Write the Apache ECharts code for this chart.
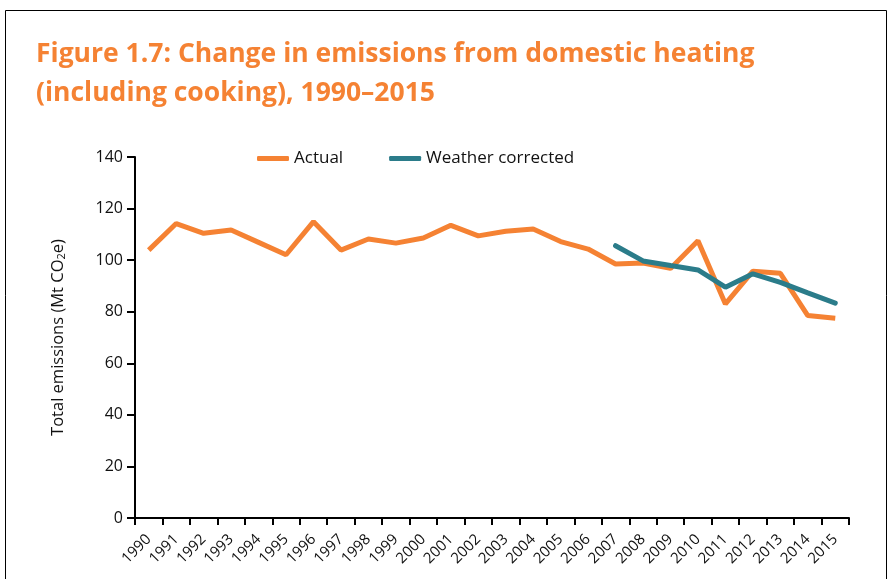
<!DOCTYPE html>
<html>
<head>
<meta charset="utf-8">
<script src="https://cdn.jsdelivr.net/npm/echarts@6/dist/echarts.min.js"></script>
<style>
  html, body { margin: 0; padding: 0; background: #fff; }
  #main { width: 889px; height: 579px; }
</style>
</head>
<body>
<div id="main"></div>
<script>
const years = ['1990', '1991', '1992', '1993', '1994', '1995', '1996', '1997', '1998', '1999',
  '2000', '2001', '2002', '2003', '2004', '2005', '2006', '2007', '2008', '2009',
  '2010', '2011', '2012', '2013', '2014', '2015'];
const actual = [103.9, 114.2, 110.4, 111.7, 106.9, 102.1, 114.9, 103.9, 108.2, 106.6,
  108.6, 113.5, 109.4, 111.2, 112.1, 107.2, 104.3, 98.5, 98.9, 96.8,
  107.5, 83.0, 95.7, 94.9, 78.5, 77.5];
// weather corrected only from 2007
const weatherCorrected = [null, null, null, null, null, null, null, null, null, null,
  null, null, null, null, null, null, null, 105.6, 99.7, 97.9,
  96.2, 89.5, 94.7, 91.4, 87.3, 83.3];

const orange = '#F58233';
const teal = '#2B7C8A';
const font = 'Open Sans';

const myChart = echarts.init(document.querySelector('#main'));

const option = {
  animation: false,
  backgroundColor: '#fff',
  graphic: [
    {
      type: 'rect',
      shape: { x: 5.5, y: 10.5, width: 881, height: 600 },
      style: { fill: 'none', stroke: '#000', lineWidth: 1 }
    },
    {
      type: 'text',
      left: 36,
      top: 35,
      style: {
        text: 'Figure 1.7: Change in emissions from domestic heating\n(including cooking), 1990\u20132015',
        fill: orange,
        font: 'bold 26.5px "Open Sans"',
        lineHeight: 39
      }
    }
  ],
  legend: {
    top: 145,
    left: 252,
    itemGap: 46,
    itemWidth: 32,
    itemHeight: 5,
    icon: 'roundRect',
    textStyle: { fontFamily: font, fontSize: 17, color: '#111' },
    data: ['Actual', 'Weather corrected']
  },
  grid: { left: 135, right: 40, top: 157, bottom: 61 },
  xAxis: {
    type: 'category',
    data: years,
    boundaryGap: true,
    axisLine: { lineStyle: { color: '#000', width: 2 } },
    axisTick: { show: true, length: 7, lineStyle: { color: '#000', width: 2 } },
    axisLabel: {
      interval: 0,
      rotate: 45,
      fontFamily: font,
      fontSize: 15,
      color: '#111',
      margin: 19
    }
  },
  yAxis: {
    type: 'value',
    min: 0,
    max: 140,
    interval: 20,
    name: '{a|Total emissions (Mt CO}{s|2}{a|e)}',
    nameLocation: 'middle',
    nameRotate: 90,
    nameGap: 68,
    nameTextStyle: {
      rich: {
        a: { fontFamily: font, fontSize: 16.5, color: '#111' },
        s: { fontFamily: font, fontSize: 11, color: '#111', verticalAlign: 'bottom', padding: [7, 0, 0, 0] }
      }
    },
    axisLine: { show: true, lineStyle: { color: '#000', width: 2 } },
    axisTick: { show: true, length: 8, lineStyle: { color: '#000', width: 2 } },
    splitLine: { show: false },
    axisLabel: { fontFamily: font, fontSize: 16, color: '#111', margin: 12 }
  },
  series: [
    {
      name: 'Actual',
      type: 'line',
      data: actual,
      showSymbol: false,
      symbol: 'none',
      itemStyle: { color: orange },
      lineStyle: { color: orange, width: 5 }
    },
    {
      name: 'Weather corrected',
      type: 'line',
      data: weatherCorrected,
      showSymbol: false,
      symbol: 'none',
      itemStyle: { color: teal },
      lineStyle: { color: teal, width: 5, cap: 'round' }
    }
  ]
};

myChart.setOption(option);
</script>
</body>
</html>
